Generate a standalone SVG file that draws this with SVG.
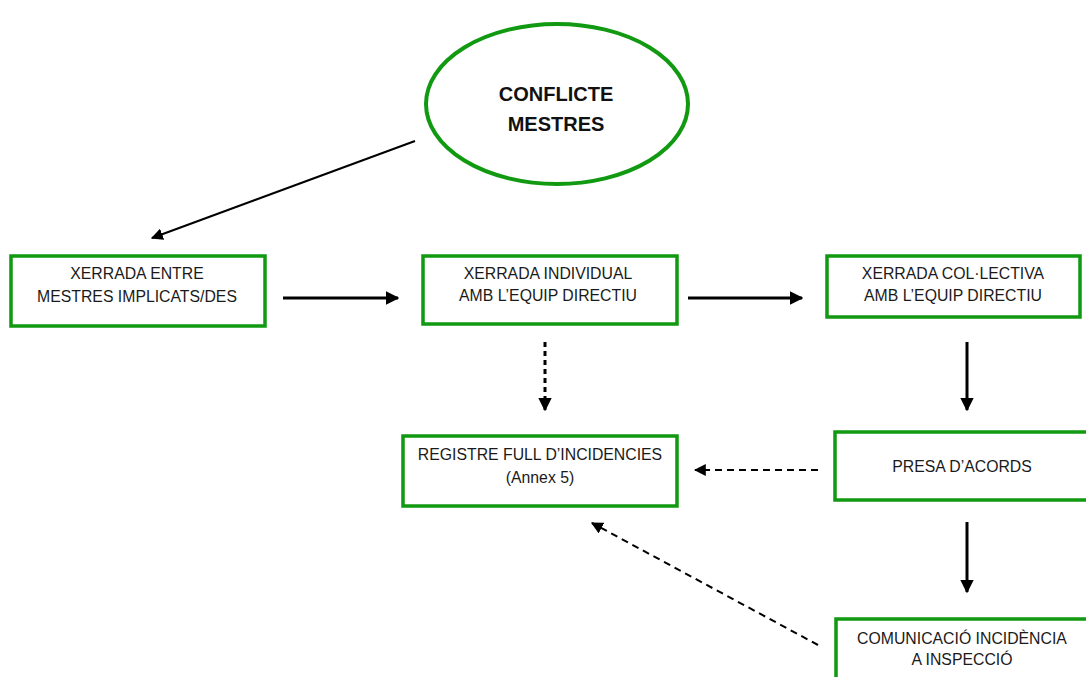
<svg xmlns="http://www.w3.org/2000/svg" width="1086" height="677" viewBox="0 0 1086 677">
<style>
.box{fill:#fff;stroke:#119911;stroke-width:3.5}
.t{font-family:"Liberation Sans",Arial,sans-serif;font-size:15.8px;fill:#1a1a1a;text-anchor:middle}
.tb{font-family:"Liberation Sans",Arial,sans-serif;font-size:20px;font-weight:bold;fill:#111;text-anchor:middle}
.c{stroke:#000;stroke-width:3;fill:none}
.c2{stroke:#000;stroke-width:2;fill:none}
.d{stroke-dasharray:7,5}
.dv{stroke-dasharray:5,4}
</style>
<defs>
<marker id="ah" viewBox="0 0 10 10" refX="9" refY="5" markerWidth="4.5" markerHeight="4.5" markerUnits="strokeWidth" orient="auto">
<path d="M0,0 L10,5 L0,10 z" fill="#000"/>
</marker>
<marker id="ah2" viewBox="0 0 10 10" refX="9" refY="5" markerWidth="6" markerHeight="6" markerUnits="strokeWidth" orient="auto">
<path d="M0,0 L10,5 L0,10 z" fill="#000"/>
</marker>
</defs>
<rect width="1086" height="677" fill="#fff"/>
<g id="connectors">
<line class="c2" x1="415" y1="141" x2="152" y2="238" marker-end="url(#ah2)"/>
<line class="c" x1="283" y1="298" x2="398" y2="298" marker-end="url(#ah)"/>
<line class="c" x1="688" y1="298" x2="802" y2="298" marker-end="url(#ah)"/>
<line class="c dv" x1="545" y1="342" x2="545" y2="410" marker-end="url(#ah)"/>
<line class="c" x1="967" y1="342" x2="967" y2="410" marker-end="url(#ah)"/>
<line class="c2 d" x1="818" y1="470" x2="695" y2="470" marker-end="url(#ah2)"/>
<line class="c" x1="967" y1="522" x2="967" y2="592" marker-end="url(#ah)"/>
<line class="c2 d" x1="818" y1="645" x2="592" y2="523" marker-end="url(#ah2)"/>
</g>
<g id="conflicte">
<ellipse cx="557" cy="104" rx="131" ry="80" fill="#fff" stroke="#119911" stroke-width="4"/>
<text class="tb" x="556" y="101">CONFLICTE</text>
<text class="tb" x="556" y="131">MESTRES</text>
</g>
<g id="xerrada-entre">
<rect class="box" x="11" y="256" width="254" height="70"/>
<text class="t" x="137" y="279">XERRADA ENTRE</text>
<text class="t" x="137" y="302">MESTRES IMPLICATS/DES</text>
</g>
<g id="xerrada-individual">
<rect class="box" x="423" y="256" width="254" height="68"/>
<text class="t" x="548" y="279">XERRADA INDIVIDUAL</text>
<text class="t" x="548" y="301">AMB L’EQUIP DIRECTIU</text>
</g>
<g id="xerrada-collectiva">
<rect class="box" x="827" y="256" width="253" height="61"/>
<text class="t" x="953" y="279">XERRADA COL·LECTIVA</text>
<text class="t" x="953" y="301">AMB L’EQUIP DIRECTIU</text>
</g>
<g id="registre">
<rect class="box" x="403" y="436" width="274" height="70"/>
<text class="t" x="540" y="460">REGISTRE FULL D’INCIDENCIES</text>
<text class="t" x="540" y="483">(Annex 5)</text>
</g>
<g id="presa">
<rect class="box" x="835" y="432" width="260" height="68"/>
<text class="t" x="962" y="472">PRESA D’ACORDS</text>
</g>
<g id="comunicacio">
<rect class="box" x="836" y="619" width="260" height="70"/>
<text class="t" x="962" y="644">COMUNICACIÓ INCIDÈNCIA</text>
<text class="t" x="962" y="665">A INSPECCIÓ</text>
</g>
</svg>
